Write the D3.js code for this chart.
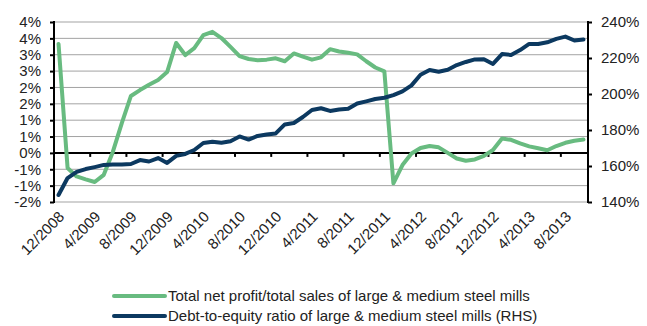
<!DOCTYPE html>
<html>
<head>
<meta charset="utf-8">
<script src="https://cdn.jsdelivr.net/npm/d3@7"></script>
<style>
  html, body { margin: 0; padding: 0; background: #fff; }
  svg { display: block; font-family: "Liberation Sans", Arial, sans-serif; }
</style>
</head>
<body>
<svg id="chart" width="647" height="326"></svg>
<script>
// Monthly observations, Dec 2008 – Oct 2013
const months = [
  "12/2008",
  "1/2009","2/2009","3/2009","4/2009","5/2009","6/2009","7/2009","8/2009","9/2009","10/2009","11/2009","12/2009",
  "1/2010","2/2010","3/2010","4/2010","5/2010","6/2010","7/2010","8/2010","9/2010","10/2010","11/2010","12/2010",
  "1/2011","2/2011","3/2011","4/2011","5/2011","6/2011","7/2011","8/2011","9/2011","10/2011","11/2011","12/2011",
  "1/2012","2/2012","3/2012","4/2012","5/2012","6/2012","7/2012","8/2012","9/2012","10/2012","11/2012","12/2012",
  "1/2013","2/2013","3/2013","4/2013","5/2013","6/2013","7/2013","8/2013","9/2013","10/2013"
];

// Total net profit / total sales (%), left axis
const profitMargin = [
  3.33,
  -0.46,-0.72,-0.81,-0.89,-0.67,0.03,0.92,1.74,1.92,2.08,2.23,2.47,
  3.36,2.99,3.20,3.60,3.70,3.51,3.24,2.96,2.87,2.83,2.85,2.89,
  2.80,3.04,2.94,2.85,2.92,3.17,3.10,3.06,3.01,2.80,2.61,2.49,
  -0.93,-0.37,-0.02,0.15,0.21,0.17,0.00,-0.17,-0.24,-0.20,-0.09,0.09,
  0.44,0.40,0.29,0.20,0.14,0.08,0.21,0.31,0.37,0.41
];

// Debt-to-equity ratio (%), right axis
const debtToEquity = [
  143.9,
  153.3,156.7,158.3,159.4,160.6,160.8,160.8,161.1,163.3,162.5,164.4,161.7,
  165.6,166.7,168.9,172.8,173.5,172.9,173.8,176.4,174.7,176.7,177.5,178.1,
  183.1,183.9,187.2,191.1,192.1,190.6,191.4,191.8,194.7,195.9,197.2,197.9,
  199.4,201.5,204.8,210.7,213.3,212.4,213.5,216.1,217.8,219.2,219.3,216.7,
  222.2,221.7,224.4,227.8,227.8,228.7,230.6,231.9,229.7,230.3
];

const leftTicks = [-1.5, -1, -0.5, 0, 0.5, 1, 1.5, 2, 2.5, 3, 3.5, 4];
const leftTickLabels = ["-2%","-1%","-1%","0%","1%","1%","2%","2%","3%","3%","4%","4%"];
const rightTicks = [140, 160, 180, 200, 220, 240];
const rightTickLabels = ["140%","160%","180%","200%","220%","240%"];

const seriesNames = [
  "Total net profit/total sales of large & medium steel mills",
  "Debt-to-equity ratio of large & medium steel mills (RHS)"
];
const colors = ["#68bb80", "#0c3960"];

const svg = d3.select("#chart");
const plot = { left: 54, right: 588, top: 22, bottom: 202 };

const x = d3.scaleBand().domain(months).range([plot.left, plot.right]).padding(0);
const yL = d3.scaleLinear().domain([-1.5, 4]).range([plot.bottom, plot.top]);
const yR = d3.scaleLinear().domain([140, 240]).range([plot.bottom, plot.top]);
const cx = m => x(m) + x.bandwidth() / 2;

// horizontal gridlines
svg.append("g").selectAll("line").data(leftTicks).join("line")
  .attr("x1", plot.left).attr("x2", plot.right)
  .attr("y1", d => yL(d)).attr("y2", d => yL(d))
  .attr("stroke", "#a3a3a3").attr("stroke-width", 1);

// left axis
const leftAxis = d3.axisLeft(yL).tickValues(leftTicks)
  .tickFormat((d, i) => leftTickLabels[i]).tickSize(4).tickPadding(9);
const gL = svg.append("g").attr("transform", `translate(${plot.left},0)`).call(leftAxis);
gL.select(".domain").remove();
gL.selectAll(".tick line").attr("stroke", "#000").attr("stroke-width", 2);
gL.selectAll(".tick text").attr("font-size", 15).attr("fill", "#222");
svg.append("line").attr("x1", plot.left).attr("x2", plot.left)
  .attr("y1", plot.top - 1).attr("y2", plot.bottom + 1)
  .attr("stroke", "#000").attr("stroke-width", 2);

// right axis
const rightAxis = d3.axisRight(yR).tickValues(rightTicks)
  .tickFormat((d, i) => rightTickLabels[i]).tickSize(4).tickPadding(9);
const gR = svg.append("g").attr("transform", `translate(${plot.right},0)`).call(rightAxis);
gR.select(".domain").remove();
gR.selectAll(".tick line").attr("stroke", "#000").attr("stroke-width", 2);
gR.selectAll(".tick text").attr("font-size", 15).attr("fill", "#222");
svg.append("line").attr("x1", plot.right).attr("x2", plot.right)
  .attr("y1", plot.top - 1).attr("y2", plot.bottom + 1)
  .attr("stroke", "#000").attr("stroke-width", 2);

// category axis along the zero line
const y0 = yL(0);
svg.append("line").attr("x1", plot.left).attr("x2", plot.right)
  .attr("y1", y0).attr("y2", y0).attr("stroke", "#000").attr("stroke-width", 2);
const labelled = months.filter((m, i) => i % 4 === 0);
svg.append("g").selectAll("line").data(labelled.slice(1)).join("line")
  .attr("x1", d => x(d)).attr("x2", d => x(d))
  .attr("y1", y0).attr("y2", y0 + 4)
  .attr("stroke", "#000").attr("stroke-width", 2);

// rotated month labels below the plot
svg.append("g").selectAll("text").data(labelled).join("text")
  .attr("transform", d => `translate(${cx(d) + 3},${plot.bottom + 12}) rotate(-45)`)
  .attr("text-anchor", "end").attr("dy", "0.35em")
  .attr("font-size", 15).attr("fill", "#222")
  .text(d => d);

// series lines
const lineL = d3.line().x((d, i) => cx(months[i])).y(d => yL(d));
const lineR = d3.line().x((d, i) => cx(months[i])).y(d => yR(d));
svg.append("path").datum(profitMargin).attr("d", lineL)
  .attr("fill", "none").attr("stroke", colors[0]).attr("stroke-width", 4)
  .attr("stroke-linejoin", "round").attr("stroke-linecap", "round");
svg.append("path").datum(debtToEquity).attr("d", lineR)
  .attr("fill", "none").attr("stroke", colors[1]).attr("stroke-width", 4)
  .attr("stroke-linejoin", "round").attr("stroke-linecap", "round");

// legend
const legend = svg.append("g");
seriesNames.forEach((name, i) => {
  const ly = 296 + i * 20;
  legend.append("line").attr("x1", 114).attr("x2", 165).attr("y1", ly).attr("y2", ly)
    .attr("stroke", colors[i]).attr("stroke-width", 4).attr("stroke-linecap", "round");
  legend.append("text").attr("x", 168).attr("y", ly).attr("dy", "0.35em")
    .attr("font-size", 15).attr("fill", "#222").text(name);
});
</script>
</body>
</html>
